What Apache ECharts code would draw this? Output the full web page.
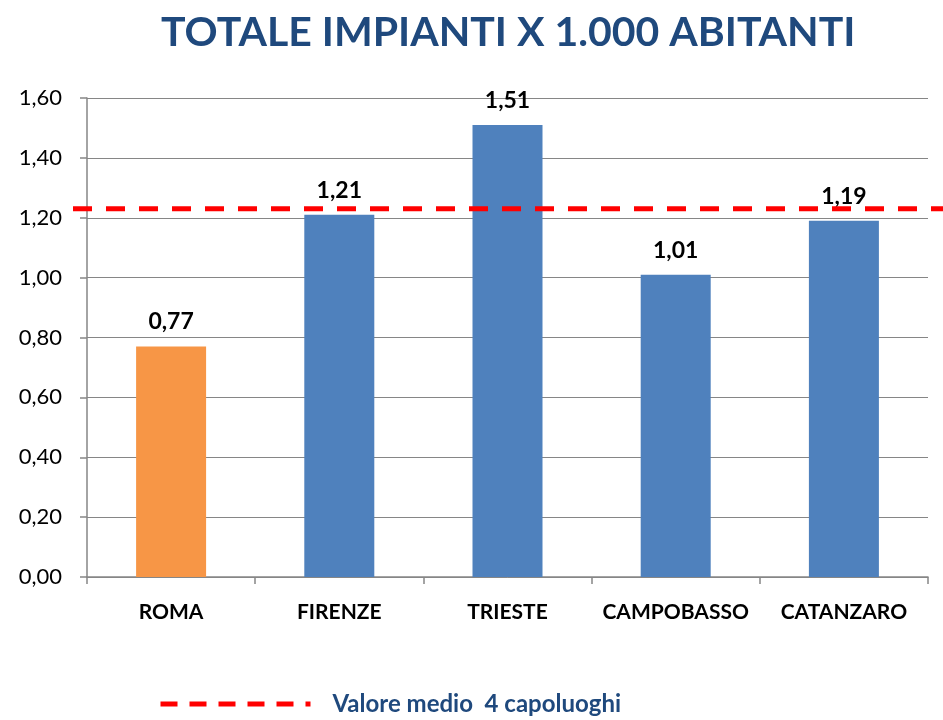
<!DOCTYPE html>
<html>
<head>
<meta charset="utf-8">
<script src="https://cdn.jsdelivr.net/npm/echarts@6/dist/echarts.min.js"></script>
<style>
  html, body { margin: 0; padding: 0; background: #fff; }
  #chart { width: 943px; height: 720px; }
</style>
</head>
<body>
<div id="chart"></div>
<script>
// dati
const categories = ['ROMA', 'FIRENZE', 'TRIESTE', 'CAMPOBASSO', 'CATANZARO'];
const values = [0.77, 1.21, 1.51, 1.01, 1.19];
const highlightCity = 'ROMA';
const avgLabel = 'Valore medio  4 capoluoghi';
const avgValue = 1.23; // media dei 4 capoluoghi
const yTicks = [0, 0.2, 0.4, 0.6, 0.8, 1.0, 1.2, 1.4, 1.6];

const fmt = v => v.toFixed(2).replace('.', ',');

const chart = echarts.init(document.getElementById('chart'));

let barData = categories.map((c, i) => ({
  value: values[i],
  itemStyle: { color: c === highlightCity ? '#F79646' : '#4F81BD' }
}));

const option = {
  animation: false,
  title: {
    text: 'TOTALE IMPIANTI X 1.000 ABITANTI',
    left: 156,
    top: 7,
    textStyle: { fontFamily: 'Lato', fontWeight: 'bold', fontSize: 41, color: '#1F497D' }
  },
  legend: {
    data: [avgLabel],
    left: 153,
    top: 687,
    itemWidth: 150,
    itemHeight: 8,
    itemStyle: { opacity: 0 },
    lineStyle: { width: 5, type: [17, 12], color: '#FF0000' },
    textStyle: { fontFamily: 'Lato', fontWeight: 'bold', fontSize: 24, color: '#1F497D', padding: [0, 0, 0, 17] }
  },
  grid: [
    { left: 87, right: 15, top: 98, bottom: 143 },
    { left: 73, right: 0, top: 98, bottom: 143 }
  ],
  xAxis: [
    {
      type: 'category',
      gridIndex: 0,
      data: categories,
      axisLine: { lineStyle: { color: '#868686', width: 1.5 } },
      axisTick: { show: true, length: 7, lineStyle: { color: '#868686', width: 1.5 } },
      axisLabel: { interval: 0, margin: 25, fontFamily: 'Lato', fontWeight: 'bold', fontSize: 21, color: '#000' }
    },
    { type: 'value', gridIndex: 1, min: 0, max: 1, show: false }
  ],
  yAxis: [
    {
      type: 'value',
      gridIndex: 0,
      min: yTicks[0],
      max: yTicks[yTicks.length - 1],
      interval: 0.2,
      axisLine: { show: true, lineStyle: { color: '#868686', width: 1.5 } },
      axisTick: { show: true, length: 7, lineStyle: { color: '#868686', width: 1.5 } },
      splitLine: { show: true, lineStyle: { color: '#868686', width: 1 } },
      axisLabel: { margin: 25, fontFamily: 'Lato', fontSize: 22, color: '#000', formatter: fmt }
    },
    { type: 'value', gridIndex: 1, min: yTicks[0], max: yTicks[yTicks.length - 1], show: false }
  ],
  series: [
    {
      type: 'bar',
      xAxisIndex: 0,
      yAxisIndex: 0,
      barWidth: 70,
      data: barData,
      label: {
        show: true,
        position: 'top',
        distance: 13,
        fontFamily: 'Lato',
        fontWeight: 'bold',
        fontSize: 23,
        color: '#000',
        formatter: p => fmt(p.value)
      }
    },
    {
      name: avgLabel,
      type: 'line',
      xAxisIndex: 1,
      yAxisIndex: 1,
      symbol: 'none',
      z: 5,
      lineStyle: { color: '#FF0000', width: 5, type: [19, 14] },
      itemStyle: { color: '#FF0000' },
      data: [[0, avgValue], [1, avgValue]]
    }
  ]
};

chart.setOption(option);
</script>
</body>
</html>
